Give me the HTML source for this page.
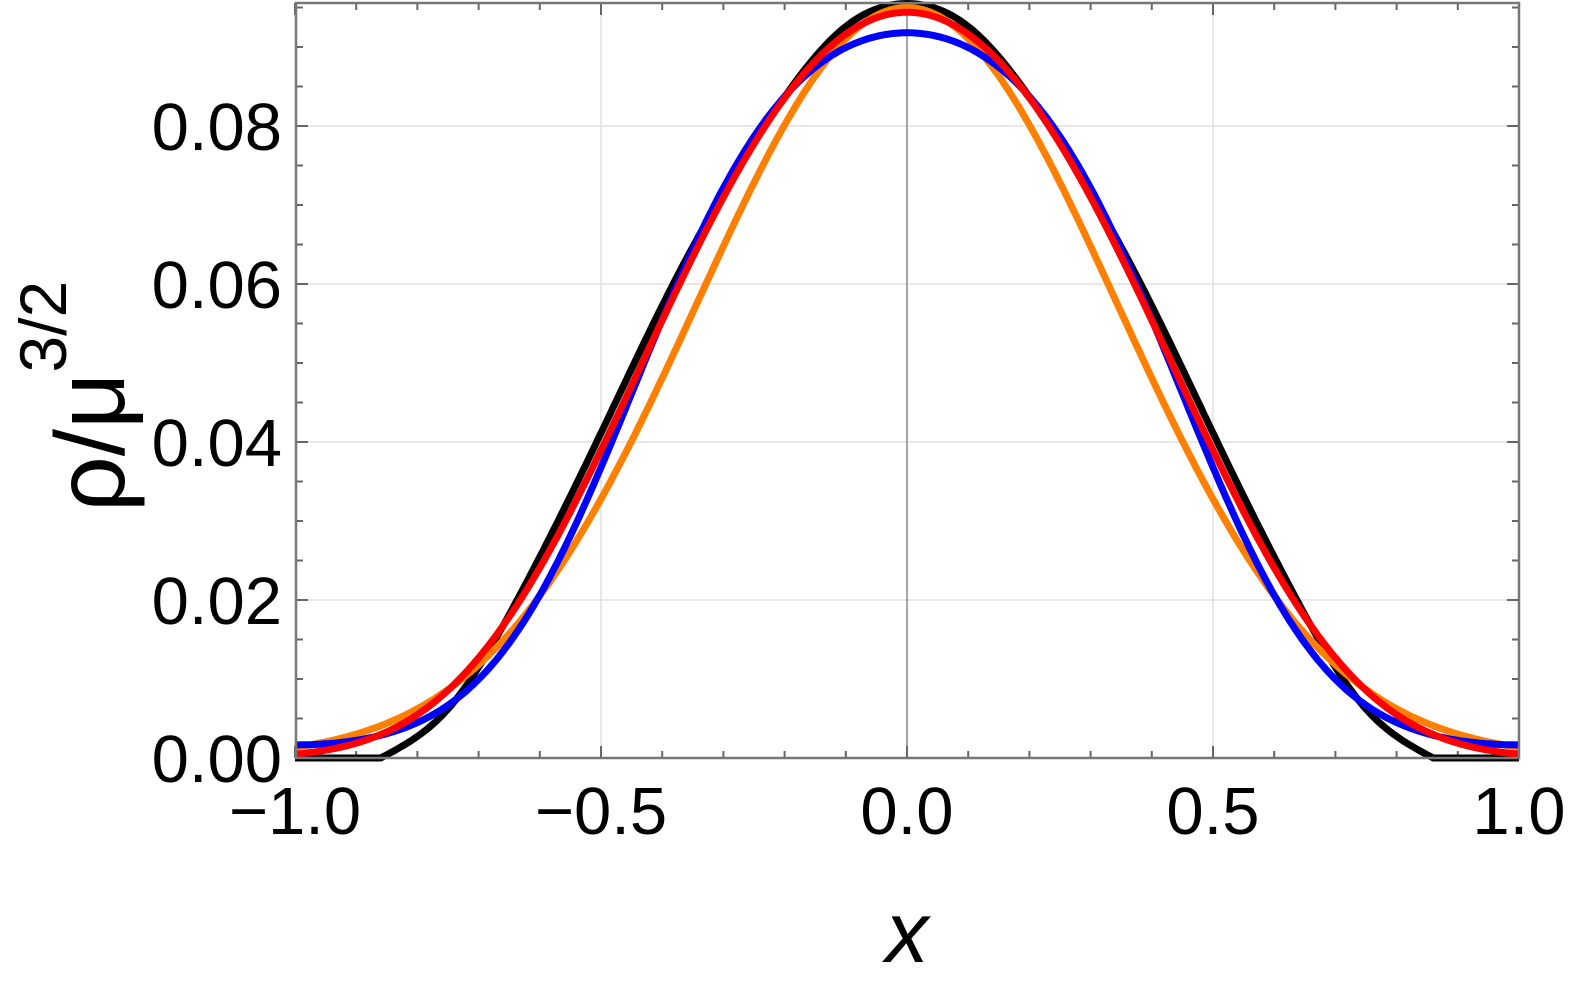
<!DOCTYPE html>
<html><head><meta charset="utf-8"><style>
html,body{margin:0;padding:0;background:#fff;}
svg{display:block;}
text{font-family:"Liberation Sans",sans-serif;}
</style></head><body>
<svg id="s" width="1578" height="993" viewBox="0 0 1578 993" xmlns="http://www.w3.org/2000/svg">
<g id="grid" stroke="#e0e0e0" stroke-width="1.5" fill="none">
<line x1="601" y1="3" x2="601" y2="758"/><line x1="1213" y1="3" x2="1213" y2="758"/>
<line x1="296" y1="126" x2="1519" y2="126"/><line x1="296" y1="284" x2="1519" y2="284"/>
<line x1="296" y1="442" x2="1519" y2="442"/><line x1="296" y1="600" x2="1519" y2="600"/>
</g>
<line x1="907" y1="3" x2="907" y2="758" stroke="#888" stroke-width="1.5"/>
<g id="ticks" stroke="#666" stroke-width="2"></g>
<g id="curves" fill="none" stroke-width="7" stroke-linejoin="round"></g>
<rect x="296" y="3" width="1223" height="755" fill="none" stroke="#777" stroke-width="2.5"/>
<g font-size="67" fill="#000" text-anchor="end">
<text x="282" y="150">0.08</text>
<text x="282" y="308">0.06</text>
<text x="282" y="466">0.04</text>
<text x="282" y="624">0.02</text>
<text x="282" y="782">0.00</text>
</g>
<g font-size="67" fill="#000" text-anchor="middle">
<text x="295" y="834">−1.0</text>
<text x="601" y="834">−0.5</text>
<text x="907" y="834">0.0</text>
<text x="1213" y="834">0.5</text>
<text x="1519" y="834">1.0</text>
</g>
<text x="907" y="962" font-size="86" font-style="italic" text-anchor="middle">x</text>
<g transform="translate(124,512) rotate(-90)">
<text x="0" y="0" font-size="98">ρ/μ<tspan font-size="66" dy="-58">3/2</tspan></text>
</g>
</svg>
<script>
var X=function(x){return 907+612*x;},Y=function(y){return 758-7900*y;};
var t=document.getElementById('ticks'),h='';
for(var i=0;i<=19;i++){var y=Y(i*0.005);var L=(i%4==0)?12:7;
h+='<line x1="296" y1="'+y+'" x2="'+(296+L)+'" y2="'+y+'"/><line x1="1519" y1="'+y+'" x2="'+(1519-L)+'" y2="'+y+'"/>';}
for(var i=-10;i<=10;i++){var x=X(i*0.1);var L=(i%5==0)?12:7;
h+='<line x1="'+x+'" y1="758" x2="'+x+'" y2="'+(758-L)+'"/><line x1="'+x+'" y1="3" x2="'+x+'" y2="'+(3+L)+'"/>';}
t.innerHTML=h;
function nat(pts){
  var xs=[],ys=[];
  for(var i=pts.length-1;i>0;i--){xs.push(-pts[i][0]);ys.push(pts[i][1]);}
  for(var i=0;i<pts.length;i++){xs.push(pts[i][0]);ys.push(pts[i][1]);}
  var n=xs.length,hh=[],al=[],l=[],mu=[],z=[],c=[],b=[],d=[];
  for(var i=0;i<n-1;i++)hh[i]=xs[i+1]-xs[i];
  for(var i=1;i<n-1;i++)al[i]=3/hh[i]*(ys[i+1]-ys[i])-3/hh[i-1]*(ys[i]-ys[i-1]);
  l[0]=1;mu[0]=0;z[0]=0;
  for(var i=1;i<n-1;i++){l[i]=2*(xs[i+1]-xs[i-1])-hh[i-1]*mu[i-1];mu[i]=hh[i]/l[i];z[i]=(al[i]-hh[i-1]*z[i-1])/l[i];}
  c[n-1]=0;
  for(var j=n-2;j>=0;j--){c[j]=z[j]-mu[j]*c[j+1];b[j]=(ys[j+1]-ys[j])/hh[j]-hh[j]*(c[j+1]+2*c[j])/3;d[j]=(c[j+1]-c[j])/(3*hh[j]);}
  return function(x){var i=0;while(i<n-2&&x>xs[i+1])i++;var u=x-xs[i];return ys[i]+b[i]*u+c[i]*u*u+d[i]*u*u*u;};
}
var blue=function(x){var s=x*x;return 0.0918*Math.exp(-(1.98*s+8.27*s*s-6.24*s*s*s));};
var red=function(x){var s=x*x;return 0.0944*Math.exp(-(2.96*s+2.32*s*s));};
var blk0=nat([[0,.0955],[.1,.0926],[.232,.08],[.382,.06],[.507,.04],[.637,.02],[.75,.0062],[.86,0]]);
var black=function(x){if(Math.abs(x)>=0.86)return 0;return Math.max(0,blk0(x));};
var fs=[
['#000',black],
['#ff8000',function(x){return 0.0950*Math.exp(-x*x/0.235);}],
['#0000ff',blue],
['#ff0000',red]
];
var c='';
fs.forEach(function(f){var d='';for(var k=0;k<=400;k++){var x=-1+k/200;d+=(k?'L':'M')+X(x).toFixed(1)+','+Y(f[1](x)).toFixed(1);}
c+='<path d="'+d+'" stroke="'+f[0]+'"/>';});
document.getElementById('curves').innerHTML=c;
</script>
</body></html>
